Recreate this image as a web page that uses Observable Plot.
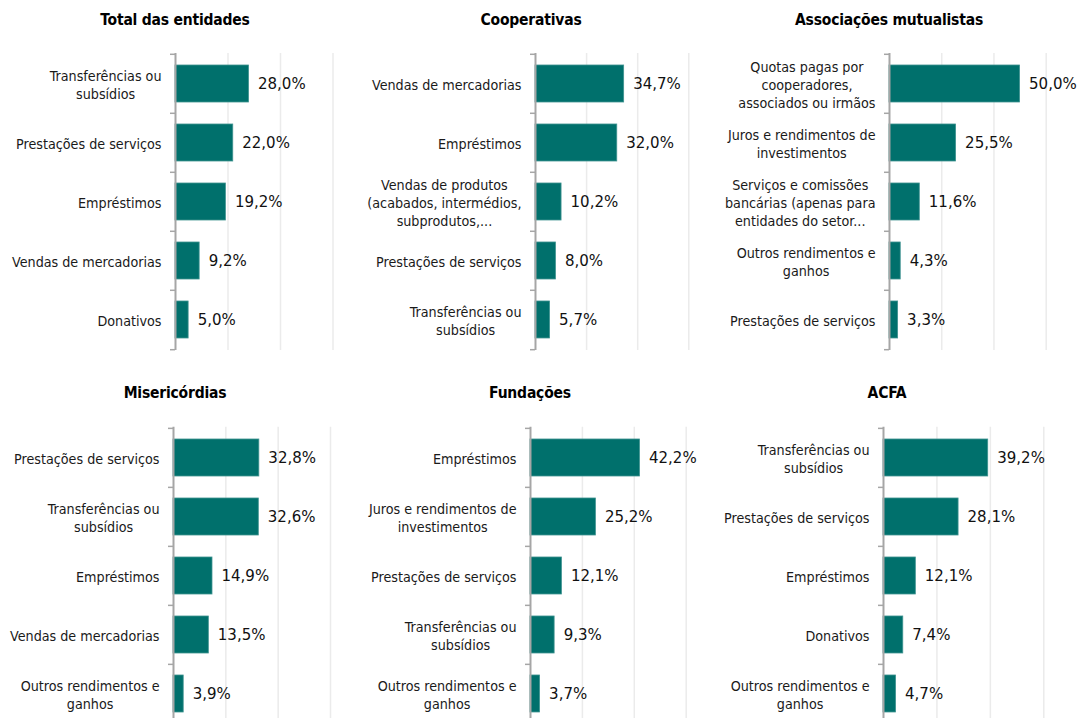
<!DOCTYPE html>
<html><head><meta charset="utf-8">
<script src="https://cdn.jsdelivr.net/npm/d3@7"></script>
<script src="https://cdn.jsdelivr.net/npm/@observablehq/plot@0.6"></script>
<style>
body{margin:0;background:#fff;width:1077px;height:718px;overflow:hidden;position:relative;font-family:"DejaVu Sans Condensed","DejaVu Sans",sans-serif;}
#root{position:absolute;left:0;top:0;width:1077px;height:718px;}
.title{position:absolute;transform:translate(-50%,-50%);font-weight:bold;font-size:15.5px;letter-spacing:-0.2px;white-space:nowrap;color:#000;font-family:"DejaVu Sans Condensed","DejaVu Sans",sans-serif;}
.panel{position:absolute;}
</style></head><body><div id="root"></div>
<script>
// ---- data ----
const totalCats = ["Transferências ou\nsubsídios", "Prestações de serviços", "Empréstimos", "Vendas de mercadorias", "Donativos"];
const totalVals = [28.0, 22.0, 19.2, 9.2, 5.0];

const coopCats = ["Vendas de mercadorias", "Empréstimos", "Vendas de produtos\n(acabados, intermédios,\nsubprodutos,...", "Prestações de serviços", "Transferências ou\nsubsídios"];
const coopVals = [34.7, 32.0, 10.2, 8.0, 5.7];

const mutCats = ["Quotas pagas por\ncooperadores,\nassociados ou irmãos", "Juros e rendimentos de\ninvestimentos", "Serviços e comissões\nbancárias (apenas para\nentidades do setor...", "Outros rendimentos e\nganhos", "Prestações de serviços"];
const mutVals = [50.0, 25.5, 11.6, 4.3, 3.3];

const miseCats = ["Prestações de serviços", "Transferências ou\nsubsídios", "Empréstimos", "Vendas de mercadorias", "Outros rendimentos e\nganhos"];
const miseVals = [32.8, 32.6, 14.9, 13.5, 3.9];

const fundCats = ["Empréstimos", "Juros e rendimentos de\ninvestimentos", "Prestações de serviços", "Transferências ou\nsubsídios", "Outros rendimentos e\nganhos"];
const fundVals = [42.2, 25.2, 12.1, 9.3, 3.7];

const acfaCats = ["Transferências ou\nsubsídios", "Prestações de serviços", "Empréstimos", "Donativos", "Outros rendimentos e\nganhos"];
const acfaVals = [39.2, 28.1, 12.1, 7.4, 4.7];

const titles = ["Total das entidades", "Cooperativas", "Associações mutualistas", "Misericórdias", "Fundações", "ACFA"];
const gridTicks = [20, 40, 60];
const xMax = 60;

// ---- layout ----
const layout = [
  {axisX: 175,   x60: 332.5, svgTop: 0,   plotTop: 53,  plotBottom: 350, titleX: 175, titleY: 20},
  {axisX: 534.7, x60: 688,   svgTop: 0,   plotTop: 53,  plotBottom: 350, titleX: 531, titleY: 20},
  {axisX: 889.3, x60: 1046,  svgTop: 0,   plotTop: 53,  plotBottom: 350, titleX: 889, titleY: 20},
  {axisX: 173,   x60: 330,   svgTop: 370, plotTop: 426.7, plotBottom: 723, titleX: 175, titleY: 393},
  {axisX: 530,   x60: 685.7, svgTop: 370, plotTop: 426.7, plotBottom: 723, titleX: 530, titleY: 393},
  {axisX: 882.7, x60: 1043,  svgTop: 370, plotTop: 426.7, plotBottom: 723, titleX: 887, titleY: 393}
];
const series = [
  [totalCats, totalVals], [coopCats, coopVals], [mutCats, mutVals],
  [miseCats, miseVals], [fundCats, fundVals], [acfaCats, acfaVals]
];

const FONT = '"DejaVu Sans Condensed","DejaVu Sans",sans-serif';
const LABEL_SIZE = 14.2;
const VALUE_SIZE = 16.7;
const BAR = "#00706c";
const ML = 178, MR = 70;

const canvas = document.createElement("canvas");
const ctx = canvas.getContext("2d");
ctx.font = `${LABEL_SIZE}px "DejaVu Sans Condensed"`;
const blockWidth = s => Math.max(...s.split("\n").map(l => ctx.measureText(l).width));
const fmt = v => v.toFixed(1).replace(".", ",") + "%";

const root = document.getElementById("root");

layout.forEach((L, k) => {
  const [cats, vals] = series[k];
  const data = cats.map((c, i) => ({cat: c, val: vals[i]}));
  const plotW = L.x60 - L.axisX;
  const plotH = L.plotBottom - L.plotTop;
  const step = plotH / cats.length;
  const marginTop = L.plotTop - L.svgTop;
  const height = marginTop + plotH + 4;

  const labelMarks = cats.map(c => Plot.text([c], {
    y: d => d, frameAnchor: "left", text: d => d,
    textAnchor: "middle", dx: -(14 + blockWidth(c) / 2),
    fontSize: LABEL_SIZE, lineHeight: 1.27, fill: "#1a1a1a"
  }));

  const chart = Plot.plot({
    width: ML + plotW + MR,
    height,
    marginLeft: ML, marginRight: MR, marginTop, marginBottom: 4,
    x: {domain: [0, xMax], axis: null},
    y: {domain: cats, axis: null, paddingInner: 0.38, paddingOuter: 0.19},
    style: {background: "transparent", overflow: "visible", fontFamily: FONT},
    marks: [
      Plot.ruleX(gridTicks, {stroke: "#ebebeb", strokeWidth: 1.5}),
      Plot.barX(data, {y: "cat", x: "val", fill: BAR, stroke: "#3f9390", strokeWidth: 0.8}),
      Plot.ruleX([0], {stroke: "#a6a6a6", strokeWidth: 2}),
      Plot.ruleY(cats, {y: d => d, dy: -step / 2, insetRight: plotW - 5, dx: -5, stroke: "#a6a6a6", strokeWidth: 1.5}),
      Plot.ruleY([cats[cats.length - 1]], {y: d => d, dy: step / 2, insetRight: plotW - 5, dx: -5, stroke: "#a6a6a6", strokeWidth: 1.5}),
      Plot.text(data, {y: "cat", x: "val", text: d => fmt(d.val), textAnchor: "start", dx: 9, fontSize: VALUE_SIZE, fill: "#111"}),
      ...labelMarks
    ]
  });
  chart.classList.add("panel");
  chart.style.left = (L.axisX - ML) + "px";
  chart.style.top = L.svgTop + "px";
  root.appendChild(chart);

  const t = document.createElement("div");
  t.className = "title";
  t.textContent = titles[k];
  t.style.left = L.titleX + "px";
  t.style.top = L.titleY + "px";
  root.appendChild(t);
});
</script>
</body></html>
